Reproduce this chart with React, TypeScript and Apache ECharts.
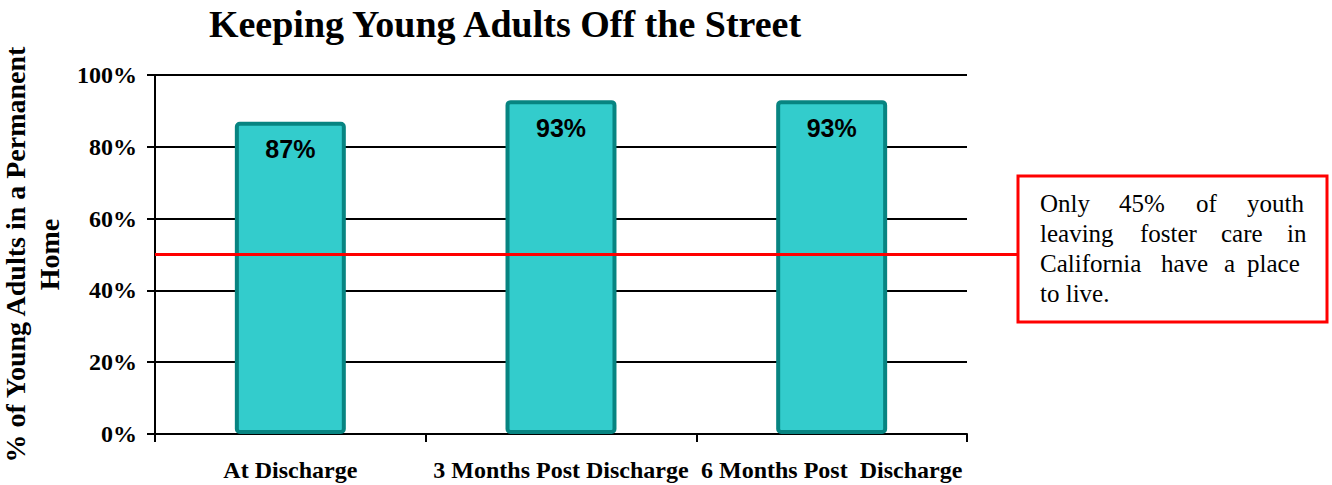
import React, { useEffect, useRef } from "react";
import * as echarts from "echarts";

const categories = ["At Discharge", "3 Months Post Discharge", "6 Months Post  Discharge"];
const values = [87, 93, 93];
const yTicks = [0, 20, 40, 60, 80, 100];
const referenceValue = 50;
const titleText = "Keeping Young Adults Off the Street";
const yAxisTitle = "% of Young Adults in a Permanent\nHome";
const noteLines = [
  ["Only", "45%", "of", "youth"],
  ["leaving", "foster", "care", "in"],
  ["California", "have", "a", "place"],
  ["to live."],
];
const noteWordX = [
  [1040, 1119, 1196, 1247],
  [1040, 1140, 1221, 1287],
  [1040, 1161, 1224, 1247],
  [1040],
];

export default function App() {
  const ref = useRef<HTMLDivElement>(null);
  useEffect(() => {
    if (!ref.current) return;
    const chart = echarts.init(ref.current, null, { renderer: "svg" });
    const serif = "'Liberation Serif', 'Times New Roman', serif";
    const sans = "'Liberation Sans', Arial, sans-serif";
    chart.setOption({
      animation: false,
      backgroundColor: "#ffffff",
      title: {
        text: titleText,
        left: 500,
        top: 0,
        textAlign: "center",
        textStyle: { fontFamily: serif, fontWeight: "bold", fontSize: 38, color: "#000" },
      },
      grid: { left: 155, right: 365, top: 75, bottom: 51, outerBoundsMode: "none", containLabel: false },
      xAxis: {
        type: "category",
        data: categories,
        axisLine: { show: true, lineStyle: { color: "#000", width: 2 } },
        axisTick: { show: true, length: 8, lineStyle: { color: "#000", width: 2 } },
        axisLabel: {
          interval: 0,
          margin: 24,
          fontFamily: serif,
          fontWeight: "bold",
          fontSize: 24,
          color: "#000",
          hideOverlap: false,
        },
      },
      yAxis: {
        type: "value",
        min: 0,
        max: 100,
        interval: 20,
        name: yAxisTitle,
        nameLocation: "middle",
        nameGap: 81,
        nameTextStyle: {
          fontFamily: serif,
          fontWeight: "bold",
          fontSize: 28,
          lineHeight: 34,
          color: "#000",
          align: "center",
        },
        axisLine: { show: true, lineStyle: { color: "#000", width: 2 } },
        axisTick: { show: true, length: 8, lineStyle: { color: "#000", width: 2 } },
        splitLine: { show: true, lineStyle: { color: "#000", width: 2 } },
        axisLabel: {
          margin: 18,
          fontFamily: serif,
          fontWeight: "bold",
          fontSize: 24,
          color: "#000",
          formatter: (v: number) => (yTicks.includes(v) ? v + "%" : ""),
        },
      },
      series: [
        {
          type: "bar",
          data: values,
          barWidth: "41%",
          itemStyle: {
            color: "#33CCCC",
            borderColor: "#078481",
            borderWidth: 4,
            borderRadius: 3,
          },
          label: {
            show: true,
            position: "insideTop",
            distance: 15,
            formatter: "{c}%",
            fontFamily: sans,
            fontWeight: "bold",
            fontSize: 25,
            color: "#000",
          },
          markLine: {
            silent: true,
            symbol: "none",
            label: { show: false },
            lineStyle: { color: "#FF0000", width: 3, type: "solid" },
            data: [{ yAxis: referenceValue }],
          },
        },
      ],
    });

    const y = chart.convertToPixel({ yAxisIndex: 0 }, referenceValue) as number;
    const words: any[] = [];
    noteLines.forEach((line, li) => {
      line.forEach((w, wi) => {
        words.push({
          type: "text",
          x: noteWordX[li][wi],
          y: 203 + li * 30,
          style: {
            text: w,
            fontFamily: serif,
            fontSize: 25,
            fill: "#000",
            verticalAlign: "middle",
            align: "left",
          },
        });
      });
    });
    chart.setOption({
      graphic: [
        {
          type: "line",
          shape: { x1: 966, y1: y, x2: 1018, y2: y },
          style: { stroke: "#FF0000", lineWidth: 3 },
        },
        {
          type: "rect",
          shape: { x: 1018, y: 176, width: 309, height: 146 },
          style: { fill: "#fff", stroke: "#FF0000", lineWidth: 3 },
        },
        ...words,
      ],
    });
    return () => chart.dispose();
  }, []);
  return (
    <div
      ref={ref}
      style={{ position: "fixed", left: 0, top: 0, width: 1332, height: 485 }}
    />
  );
}
